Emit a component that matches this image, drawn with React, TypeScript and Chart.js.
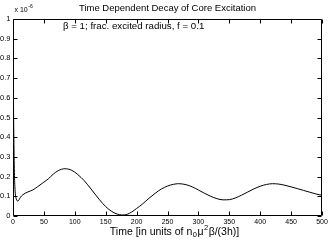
import React, { useEffect, useRef } from 'react';
import { Chart, registerables } from 'chart.js';

Chart.register(...registerables);

// ---- data (values in units of 1e-6) ----
const timeValues = [0, 1, 2, 3, 5, 8, 12, 16, 24, 32, 40, 50, 57, 65, 73, 84, 95, 105, 115, 125, 135, 145, 155, 165, 172, 178, 185, 192, 200, 210, 220, 230, 240, 250, 260, 268, 280, 290, 300, 310, 320, 330, 340, 350, 360, 370, 380, 390, 400, 410, 420, 430, 440, 450, 460, 470, 480, 490, 500];
const excitationValues = [0.88, 0.5, 0.26, 0.15, 0.09, 0.076, 0.095, 0.108, 0.122, 0.132, 0.149, 0.172, 0.188, 0.212, 0.23, 0.24, 0.232, 0.21, 0.18, 0.142, 0.102, 0.064, 0.034, 0.014, 0.007, 0.005, 0.009, 0.02, 0.038, 0.062, 0.09, 0.115, 0.137, 0.152, 0.161, 0.164, 0.159, 0.148, 0.132, 0.115, 0.1, 0.088, 0.082, 0.083, 0.092, 0.106, 0.122, 0.138, 0.151, 0.16, 0.164, 0.162, 0.156, 0.148, 0.139, 0.13, 0.121, 0.112, 0.105];
const xTickStep = 50;
const yTickStep = 0.1;
const titleText = 'Time Dependent Decay of Core Excitation';
const annotationText = 'β = 1; frac. excited radius, f = 0.1';

const OFF = 10;
const W = 332 + OFF;
const H = 242;
const FONT = '"Liberation Sans", Arial, Helvetica, sans-serif';

const matlabPlugin = {
  id: 'matlabDeco',
  afterDraw(chart: any) {
    const { ctx, chartArea: a, scales } = chart;
    const xs = scales.x;
    const ys = scales.y;
    ctx.save();
    ctx.strokeStyle = '#000';
    ctx.lineWidth = 1;
    const L = Math.round(a.left) + 0.5;
    const R = Math.round(a.right) - 0.5;
    const T = Math.round(a.top) + 0.5;
    const B = Math.round(a.bottom) - 0.5;
    ctx.beginPath();
    ctx.rect(L, T, R - L, B - T);
    const tl = 4;
    for (let v = 0; v <= 500 + 1e-9; v += xTickStep) {
      const px = Math.round(xs.getPixelForValue(v)) + 0.5;
      ctx.moveTo(px, B);
      ctx.lineTo(px, B - tl);
      ctx.moveTo(px, T);
      ctx.lineTo(px, T + tl);
    }
    for (let i = 0; i <= 10; i++) {
      const v = i * yTickStep;
      const py = Math.round(ys.getPixelForValue(v)) + 0.5;
      ctx.moveTo(L, py);
      ctx.lineTo(L + tl, py);
      ctx.moveTo(R, py);
      ctx.lineTo(R - tl, py);
    }
    ctx.stroke();

    ctx.fillStyle = '#000';
    // title
    ctx.font = `9.5px ${FONT}`;
    ctx.textAlign = 'center';
    ctx.textBaseline = 'middle';
    ctx.fillText(titleText, (a.left + a.right) / 2, 8.5);

    // exponent
    ctx.textAlign = 'left';
    ctx.font = `7px ${FONT}`;
    const ex = a.left + 1.5;
    ctx.fillText('x 10', ex, 10.5);
    const w10 = ctx.measureText('x 10').width;
    ctx.font = `5px ${FONT}`;
    ctx.fillText('-6', ex + w10 + 0.5, 6.5);

    // annotation
    ctx.font = `9.7px ${FONT}`;
    ctx.fillText(annotationText, a.left + 50, 26);

    // x label with sub/superscripts
    const segs = [
      { t: 'Time [in units of n', s: 10.5, dy: 0, gap: 0 },
      { t: '0', s: 7.5, dy: 3, gap: 0.5 },
      { t: 'μ', s: 10.5, dy: 0, gap: 0.5 },
      { t: '2', s: 7.5, dy: -4, gap: 0.5 },
      { t: 'β/(3h)]', s: 10.5, dy: 0, gap: 0.5 },
    ];
    let total = 0;
    for (const sg of segs) {
      ctx.font = `${sg.s}px ${FONT}`;
      total += ctx.measureText(sg.t).width + sg.gap;
    }
    let cx = (a.left + a.right) / 2 - total / 2 + 7;
    for (const sg of segs) {
      ctx.font = `${sg.s}px ${FONT}`;
      cx += sg.gap;
      ctx.fillText(sg.t, cx, 232 + sg.dy);
      cx += ctx.measureText(sg.t).width;
    }
    ctx.restore();
  },
};

export default function App() {
  const ref = useRef<HTMLCanvasElement | null>(null);
  useEffect(() => {
    if (!ref.current) return;
    const points = timeValues.map((t, i) => ({ x: t, y: excitationValues[i] }));
    const chart = new Chart(ref.current, {
      type: 'line',
      data: {
        datasets: [
          {
            data: points,
            borderColor: '#000',
            borderWidth: 1,
            pointRadius: 0,
            fill: false,
            cubicInterpolationMode: 'monotone',
          },
        ],
      },
      options: {
        animation: false,
        responsive: false,
        devicePixelRatio: 1,
        layout: { padding: { left: 0, right: W - (322 + OFF), top: 19, bottom: 0 } },
        plugins: { legend: { display: false }, tooltip: { enabled: false }, title: { display: false } },
        scales: {
          x: {
            type: 'linear',
            min: 0,
            max: 500,
            grid: { display: false, drawTicks: false },
            border: { display: false },
            ticks: { stepSize: xTickStep, color: '#000', font: { size: 7, family: FONT }, padding: 2, maxRotation: 0 },
            afterFit: (s: any) => { s.height = 26; },
          },
          y: {
            type: 'linear',
            min: 0,
            max: 1,
            grid: { display: false, drawTicks: false },
            border: { display: false },
            ticks: {
              stepSize: yTickStep,
              color: '#000',
              font: { size: 7.5, family: FONT },
              padding: 2.5,
              callback: (v: any) => String(Math.round(Number(v) * 10) / 10),
            },
            afterFit: (s: any) => { s.width = 13 + OFF; },
          },
        },
      },
      plugins: [matlabPlugin],
    } as any);
    return () => chart.destroy();
  }, []);
  return (
    <div style={{ position: 'absolute', left: -OFF, top: 0, width: W, height: H, background: '#fff' }}>
      <canvas ref={ref} width={W} height={H} style={{ display: 'block', width: W, height: H }} />
    </div>
  );
}
